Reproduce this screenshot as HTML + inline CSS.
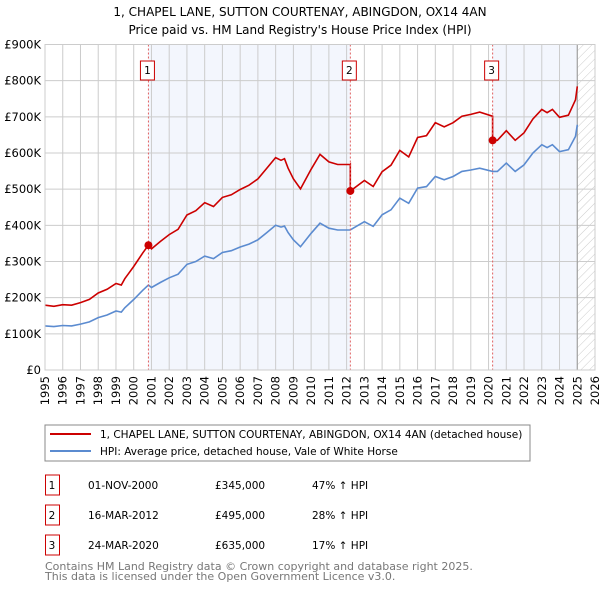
<!DOCTYPE html>
<html><head><meta charset="utf-8"><style>
body{margin:0;background:#fff;font-family:"Liberation Sans","DejaVu Sans",sans-serif;}
svg text{font-family:"DejaVu Sans","Liberation Sans",sans-serif;}
</style></head><body>
<svg id="chart" width="600" height="590" xmlns="http://www.w3.org/2000/svg">
<defs><pattern id="hatch" width="6" height="6" patternUnits="userSpaceOnUse" patternTransform="rotate(45)"><line x1="0" y1="0" x2="0" y2="6" stroke="#ccc" stroke-width="1"/></pattern></defs>
<text x="300" y="16" text-anchor="middle" font-size="12" fill="#000">1, CHAPEL LANE, SUTTON COURTENAY, ABINGDON, OX14 4AN</text>
<text x="300" y="34" text-anchor="middle" font-size="12" fill="#000">Price paid vs. HM Land Registry's House Price Index (HPI)</text>
<g id="plot"></g>
<rect x="45" y="425" width="485" height="36" fill="#fff" stroke="#888"/>
<line x1="50" y1="434" x2="91" y2="434" stroke="#cc0000" stroke-width="2"/>
<text x="100" y="438" font-size="10.5">1, CHAPEL LANE, SUTTON COURTENAY, ABINGDON, OX14 4AN (detached house)</text>
<line x1="50" y1="451" x2="91" y2="451" stroke="#5b8bd0" stroke-width="2"/>
<text x="100" y="455" font-size="10.5">HPI: Average price, detached house, Vale of White Horse</text>
<g id="table" font-size="10.5"></g>
<text x="45" y="570" font-size="11" fill="#777">Contains HM Land Registry data © Crown copyright and database right 2025.</text>
<text x="45" y="580" font-size="11" fill="#777">This data is licensed under the Open Government Licence v3.0.</text>
</svg>
<script>
const hpiYears=[1995,1995.5,1996,1996.5,1997,1997.5,1998,1998.5,1999,1999.3,1999.5,2000,2000.5,2000.83,2001,2001.5,2002,2002.5,2003,2003.5,2004,2004.5,2005,2005.5,2006,2006.5,2007,2007.5,2008,2008.3,2008.5,2008.7,2009,2009.4,2010,2010.5,2011,2011.5,2012.2,2013,2013.5,2014,2014.5,2015,2015.5,2016,2016.5,2017,2017.5,2018,2018.5,2019,2019.5,2020.23,2020.5,2021,2021.5,2022,2022.5,2023,2023.3,2023.6,2024,2024.5,2024.9,2025.0];
const hpiValues=[122,120,123,122,127,133,145,152,163,160,172,195,220,235,228,242,255,265,292,300,315,308,325,330,340,348,360,380,400,395,398,380,360,341,378,406,392,387,387,410,397,429,443,475,461,503,507,535,526,535,549,553,558,549,549,572,549,567,600,623,615,623,604,609,646,678];
const saleYears=[2000.83,2012.21,2020.23];
const salePrices=[345,495,635];
const saleLabels=["1","2","3"];
const saleDates=["01-NOV-2000","16-MAR-2012","24-MAR-2020"];
const salePriceText=["£345,000","£495,000","£635,000"];
const salePctText=["47% ↑ HPI","28% ↑ HPI","17% ↑ HPI"];
const yTicks=[0,100,200,300,400,500,600,700,800,900];
const yTickLabels=["£0","£100K","£200K","£300K","£400K","£500K","£600K","£700K","£800K","£900K"];
const xTicks=[1995,1996,1997,1998,1999,2000,2001,2002,2003,2004,2005,2006,2007,2008,2009,2010,2011,2012,2013,2014,2015,2016,2017,2018,2019,2020,2021,2022,2023,2024,2025,2026];

const NS="http://www.w3.org/2000/svg";
const X0=45,X1=595,Y0=370,Y1=44.5;
const xs=y=>X0+(y-1995)/(2026-1995)*(X1-X0);
const ys=v=>Y0-v/900*(Y0-Y1);
function mk(tag,attrs,parent){const e=document.createElementNS(NS,tag);for(const k in attrs)e.setAttribute(k,attrs[k]);parent.appendChild(e);return e;}
const g=document.getElementById('plot');
function hpiAt(t){for(let i=0;i<hpiYears.length-1;i++){if(t>=hpiYears[i]&&t<=hpiYears[i+1]){const f=(t-hpiYears[i])/(hpiYears[i+1]-hpiYears[i]);return hpiValues[i]+f*(hpiValues[i+1]-hpiValues[i]);}}return hpiValues[hpiValues.length-1];}
// shaded periods
const endYear=hpiYears[hpiYears.length-1];
let r=mk('rect',{x:xs(saleYears[0]),y:Y1,width:xs(saleYears[1])-xs(saleYears[0]),height:Y0-Y1,fill:'#f3f6fd'},g);


r=mk('rect',{x:xs(saleYears[2]),y:Y1,width:xs(endYear)-xs(saleYears[2]),height:Y0-Y1,fill:'#f3f6fd'},g);


r=mk('rect',{x:xs(endYear),y:Y1,width:X1-xs(endYear),height:Y0-Y1,fill:'url(#hatch)'},g);


// grid
yTicks.forEach((v,i)=>{
 const l=mk('line',{x1:X0,x2:X1,y1:ys(v),y2:ys(v),stroke:'#ccc','stroke-width':1},g);
 
 
 const t=mk('text',{x:X0-4,y:ys(v)+4,'text-anchor':'end','font-size':11.5},g);t.textContent=yTickLabels[i];
 
 
});
xTicks.forEach(v=>{
 const l=mk('line',{x1:xs(v),x2:xs(v),y1:Y1,y2:Y0,stroke:'#ccc','stroke-width':1},g);
 
 
 const t=mk('text',{x:0,y:0,'text-anchor':'end','font-size':11.5,transform:`translate(${xs(v)+4},${Y0+6}) rotate(-90)`},g);t.textContent=v;
 
 
});
r=mk('line',{x1:xs(endYear),x2:xs(endYear),y1:Y1,y2:Y0,stroke:'#999','stroke-width':1},g);


// HPI line
const hp=hpiYears.map((y,i)=>xs(y).toFixed(1)+','+ys(hpiValues[i]).toFixed(1)).join(' ');
r=mk('polyline',{points:hp,fill:'none',stroke:'#5b8bd0','stroke-width':1.6},g);


// price line: HPI scaled from each sale
function ratioAt(t){let k=0;for(let i=0;i<saleYears.length;i++)if(t>=saleYears[i])k=i;return salePrices[k]/hpiAt(saleYears[k]);}
const pts=[];
const allT=hpiYears.concat(saleYears).sort((a,b)=>a-b);
allT.forEach(t=>{
 const s=saleYears.indexOf(t);
 if(s>0){pts.push([t,hpiAt(t)*salePrices[s-1]/hpiAt(saleYears[s-1])]);}
 pts.push([t,hpiAt(t)*ratioAt(t)]);
});
r=mk('polyline',{points:pts.map(p=>xs(p[0]).toFixed(1)+','+ys(p[1]).toFixed(1)).join(' '),fill:'none',stroke:'#cc0000','stroke-width':1.6},g);


// sales markers
saleYears.forEach((y,i)=>{
 const l=mk('line',{x1:xs(y),x2:xs(y),y1:Y1,y2:Y0,stroke:'#e06060','stroke-width':1,'stroke-dasharray':'2,2'},g);
 
 
 const c=mk('circle',{cx:xs(y),cy:ys(salePrices[i]),r:4,fill:'#cc0000'},g);
 
 
 const b=mk('rect',{x:xs(y)-8,y:61,width:14,height:19,fill:'#fff',stroke:'#cc0000'},g);
 
 
 const t=mk('text',{x:xs(y)-1,y:74,'text-anchor':'middle','font-size':10.5},g);t.textContent=saleLabels[i];
 
 
});
r=mk('rect',{x:X0,y:Y1,width:X1-X0,height:Y0-Y1,fill:'none',stroke:'#ccc'},g);


// table
const tb=document.getElementById('table');
saleLabels.forEach((s,i)=>{
 const yy=475+i*30;
 const b=mk('rect',{x:45.5,y:yy,width:14,height:20,fill:'none',stroke:'#cc0000'},tb);
 
 
 const cols=[[52,s,'middle'],[88,saleDates[i],'start'],[215,salePriceText[i],'start'],[312,salePctText[i],'start']];
 cols.forEach((c,j)=>{const t=mk('text',{x:c[0],y:yy+14,'text-anchor':c[2]},tb);t.textContent=c[1];
  
  });
});
</script>
</body></html>
